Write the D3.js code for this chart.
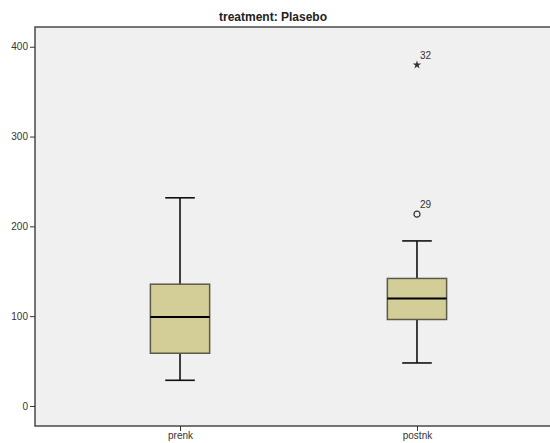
<!DOCTYPE html>
<html>
<head>
<meta charset="utf-8">
<script src="https://cdn.jsdelivr.net/npm/d3@7"></script>
<style>
  body { margin: 0; background: #fff; }
  svg { display: block; font-family: "Liberation Sans", Arial, sans-serif; }
</style>
</head>
<body>
<div id="chart"></div>
<script>
// box plot data
var categories = ["prenk", "postnk"];
var whiskerLow = [28.6, 47.9];
var q1 = [58.7, 96.3];
var median = [99.2, 119.7];
var q3 = [135.6, 142];
var whiskerHigh = [231.8, 183.8];

var outlierCat = ["postnk", "postnk"];
var outlierValue = [213.6, 379.8];
var outlierLabel = ["29", "32"];
var outlierKind = ["circle", "star"];

var yTicks = [0, 100, 200, 300, 400];

var W = 550, H = 443;
var plot = {left: 35, top: 27, right: 562, bottom: 426};

var svg = d3.select("#chart")
  .append("svg")
  .attr("width", W)
  .attr("height", H);

var x = d3.scalePoint()
  .domain(categories)
  .range([plot.left, plot.right])
  .padding(0.612);

var y = d3.scaleLinear()
  .domain([-22.3, 422])
  .range([plot.bottom, plot.top]);

var boxW = x.step() * 0.25;
var capW = boxW / 2;

// plot background
svg.append("rect")
  .attr("x", plot.left)
  .attr("y", plot.top)
  .attr("width", plot.right - plot.left)
  .attr("height", plot.bottom - plot.top)
  .attr("fill", "#f0f0f0")
  .attr("stroke", "#4a4a4a")
  .attr("stroke-width", 1.5);

// title
svg.append("text")
  .attr("x", 273)
  .attr("y", 21)
  .attr("text-anchor", "middle")
  .attr("font-size", "12px")
  .attr("font-weight", "bold")
  .attr("fill", "#222")
  .text("treatment: Plasebo");

// axes
var yAxis = d3.axisLeft(y).tickValues(yTicks).tickSize(5).tickPadding(2);
var gy = svg.append("g")
  .attr("transform", "translate(" + plot.left + ",0)")
  .call(yAxis);
gy.select(".domain").remove();
gy.selectAll("line").attr("stroke", "#333");
gy.selectAll("text").attr("font-size", "10px").attr("fill", "#333").attr("font-family", "Liberation Sans, Arial, sans-serif");

var xAxis = d3.axisBottom(x).tickSize(5).tickPadding(1);
var gx = svg.append("g")
  .attr("transform", "translate(0," + plot.bottom + ")")
  .call(xAxis);
gx.select(".domain").remove();
gx.selectAll("line").attr("stroke", "#333");
gx.selectAll("text").attr("font-size", "10px").attr("fill", "#333").attr("font-family", "Liberation Sans, Arial, sans-serif");

// boxes
var boxes = svg.append("g")
  .selectAll("g")
  .data(categories)
  .enter().append("g");

boxes.append("line")
  .attr("x1", function(d) { return x(d); })
  .attr("x2", function(d) { return x(d); })
  .attr("y1", function(d, i) { return y(whiskerLow[i]); })
  .attr("y2", function(d, i) { return y(whiskerHigh[i]); })
  .attr("stroke", "#111")
  .attr("stroke-width", 1.6);

boxes.selectAll(".cap")
  .data(function(d, i) { return [{c: d, v: whiskerLow[i]}, {c: d, v: whiskerHigh[i]}]; })
  .enter().append("line")
  .attr("class", "cap")
  .attr("x1", function(d) { return x(d.c) - capW / 2; })
  .attr("x2", function(d) { return x(d.c) + capW / 2; })
  .attr("y1", function(d) { return y(d.v); })
  .attr("y2", function(d) { return y(d.v); })
  .attr("stroke", "#111")
  .attr("stroke-width", 1.6);

boxes.append("rect")
  .attr("x", function(d) { return x(d) - boxW / 2; })
  .attr("width", boxW)
  .attr("y", function(d, i) { return y(q3[i]); })
  .attr("height", function(d, i) { return y(q1[i]) - y(q3[i]); })
  .attr("fill", "#d3ce97")
  .attr("stroke", "#5a5a4a")
  .attr("stroke-width", 1.5);

boxes.append("line")
  .attr("x1", function(d) { return x(d) - boxW / 2; })
  .attr("x2", function(d) { return x(d) + boxW / 2; })
  .attr("y1", function(d, i) { return y(median[i]); })
  .attr("y2", function(d, i) { return y(median[i]); })
  .attr("stroke", "#000")
  .attr("stroke-width", 2);

// outliers
var outliers = outlierValue.map(function(v, i) {
  return {c: outlierCat[i], v: v, label: outlierLabel[i], kind: outlierKind[i]};
});

var og = svg.append("g")
  .selectAll("g")
  .data(outliers)
  .enter().append("g")
  .attr("transform", function(d) { return "translate(" + x(d.c) + "," + y(d.v) + ")"; });

og.filter(function(d) { return d.kind === "circle"; })
  .append("circle")
  .attr("r", 3)
  .attr("fill", "none")
  .attr("stroke", "#333")
  .attr("stroke-width", 1.2);

og.filter(function(d) { return d.kind === "star"; })
  .append("path")
  .attr("d", d3.symbol().type(d3.symbolStar).size(22))
  .attr("fill", "#333");

og.append("text")
  .attr("x", 3)
  .attr("y", -6)
  .attr("font-size", "10px")
  .attr("fill", "#333")
  .text(function(d) { return d.label; });
</script>
</body>
</html>
